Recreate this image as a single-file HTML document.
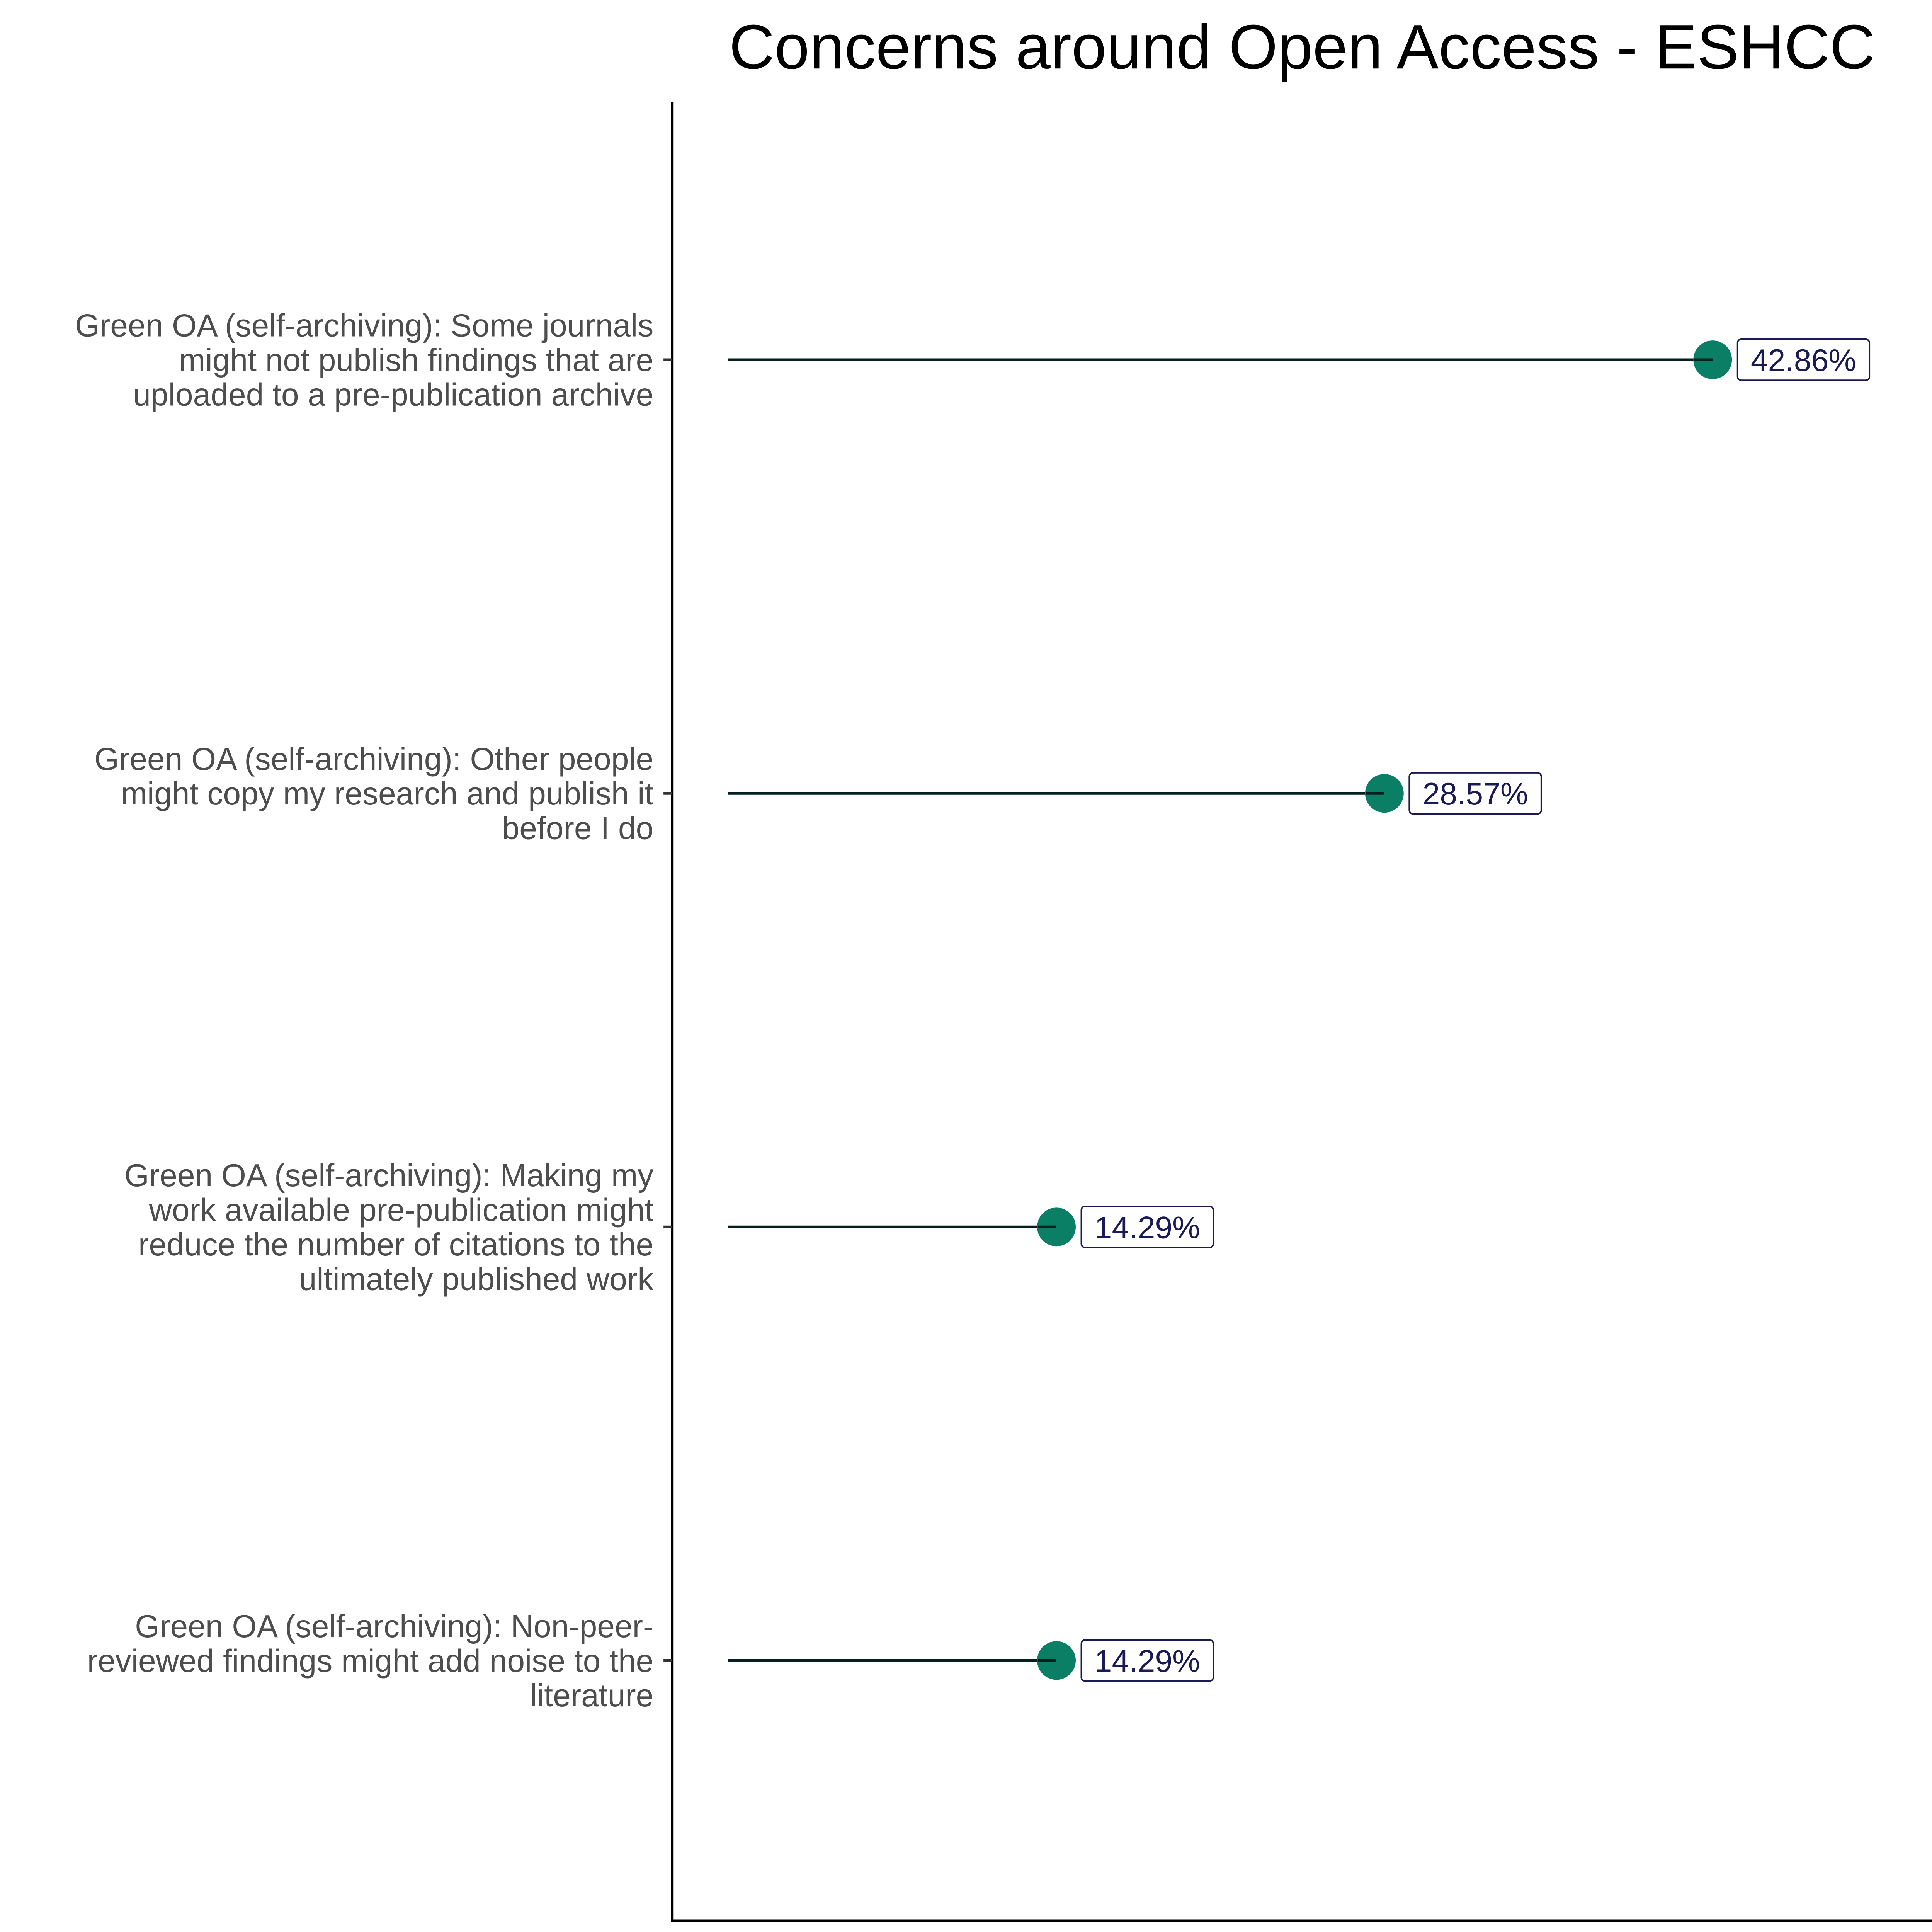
<!DOCTYPE html>
<html><head><meta charset="utf-8"><style>
html,body{margin:0;padding:0;background:#fff;width:100%;height:100%;overflow:hidden;}
svg{display:block;width:100vw;height:100vh;}
text{font-family:"Liberation Sans",Arial,sans-serif;}
</style></head><body>
<svg id="chart" viewBox="0 0 1552 1552" preserveAspectRatio="none" xmlns="http://www.w3.org/2000/svg">
<rect width="1552" height="1552" fill="#fff"/>
<text x="1046" y="55" font-size="50.5" text-anchor="middle" fill="#000">Concerns around Open Access - ESHCC</text>
<line x1="540" y1="82" x2="540" y2="1544" stroke="#000" stroke-width="2.2"/>
<line x1="539" y1="1543" x2="1552" y2="1543" stroke="#000" stroke-width="2.2"/>
<g id="marks"></g>
</svg>
<script>
const categories = [
  ["Green OA (self-archiving): Some journals","might not publish findings that are","uploaded to a pre-publication archive"],
  ["Green OA (self-archiving): Other people","might copy my research and publish it","before I do"],
  ["Green OA (self-archiving): Making my","work available pre-publication might","reduce the number of citations to the","ultimately published work"],
  ["Green OA (self-archiving): Non-peer-","reviewed findings might add noise to the","literature"]
];
const values = [42.86, 28.57, 14.29, 14.29];
const valueLabels = ["42.86%", "28.57%", "14.29%", "14.29%"];

const NS = "http://www.w3.org/2000/svg";
const g = document.getElementById("marks");
function xScale(v){ return 585 + v * 18.45; }
function yScale(i){ return 289 + i * 348.3; }
function mk(tag, attrs){ const e = document.createElementNS(NS, tag); for (const k in attrs) e.setAttribute(k, attrs[k]); g.appendChild(e); return e; }

categories.forEach((lines, i) => {
  const y = yScale(i);
  const tick = mk("line", {x1:533, y1:y, x2:540, y2:y, stroke:"#333", "stroke-width":2.2});
  
  
  const t = mk("text", {x:525, "font-size":25.5, fill:"#4d4d4d", "text-anchor":"end"});
  
  
  const n = lines.length;
  lines.forEach((ln, j) => {
    const ts = document.createElementNS(NS, "tspan");
    ts.setAttribute("x", 525);
    ts.setAttribute("y", y + (j - (n - 1) / 2) * 27.8 + 9);
    ts.textContent = ln;
    t.appendChild(ts);
  });
  const cx = xScale(values[i]);
  const seg = mk("line", {x1:xScale(0), y1:y, x2:cx, y2:y, stroke:"#03201f", "stroke-width":2.2});
  
  
  const dot = mk("circle", {cx:cx, cy:y, r:15.5, fill:"#0b7f65"});
  
  
  const stub = mk("line", {x1:cx-15, y1:y, x2:cx, y2:y, stroke:"#03201f", "stroke-width":2.2});
  
  
  const bx = cx + 20;
  const box = mk("rect", {x:bx, y:y-16.5, width:106, height:33, rx:3, fill:"#fff", stroke:"#1a1a55", "stroke-width":1.2});
  
  
  const lt = mk("text", {x:bx+53, y:y+9, "font-size":25, fill:"#1a1a55", "text-anchor":"middle"});
  
  
  lt.textContent = valueLabels[i];
});
</script>
</body></html>
